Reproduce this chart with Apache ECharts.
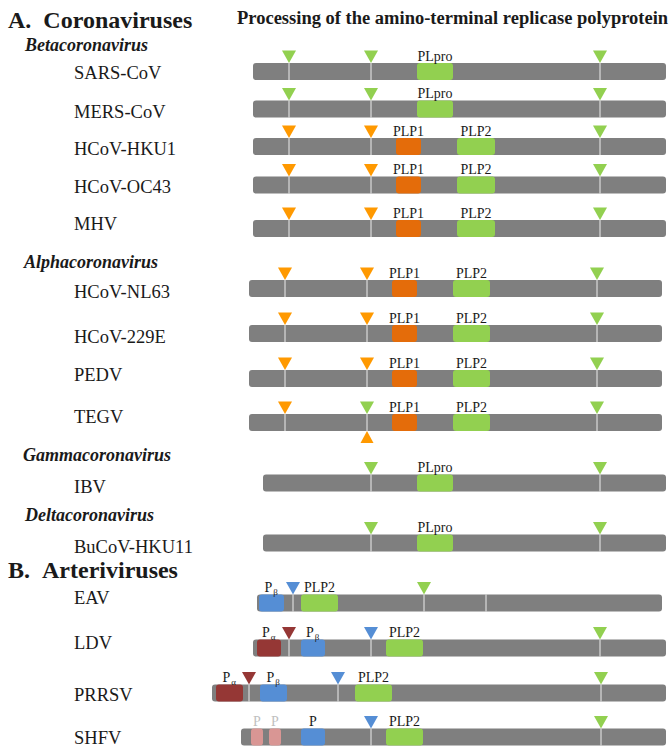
<!DOCTYPE html>
<html><head><meta charset="utf-8">
<script src="https://cdn.jsdelivr.net/npm/echarts@6/dist/echarts.min.js"></script>
<style>html,body{margin:0;padding:0;background:#fff}#c{width:671px;height:748px}</style>
</head><body><div id="c"></div>
<script>
// ---------------- data ----------------
const chartTitle = 'Processing of the amino-terminal replicase polyprotein';
const families = ['A.\u00a0\u00a0Coronaviruses', 'B.\u00a0\u00a0Arteriviruses'];
const genera = ['Betacoronavirus', 'Alphacoronavirus', 'Gammacoronavirus', 'Deltacoronavirus'];
const viruses = ['SARS-CoV','MERS-CoV','HCoV-HKU1','HCoV-OC43','MHV','HCoV-NL63','HCoV-229E','PEDV','TEGV','IBV','BuCoV-HKU11','EAV','LDV','PRRSV','SHFV'];
// polyprotein extent (relative position along the drawing scale)
const polyStart = [253,253,253,253,253,249,249,249,249,263,263,257,253,212,241];
const polyEnd   = [666,666,666,666,666,662,662,662,662,666,666,662,666,666,666];
// cleavage sites and responsible protease (second entry of a pair = site processed from below)
const cleavagePos = [
  [289,371,600],[289,371,600],[289,371,600],[289,371,600],[289,371,600],
  [285,367,597],[285,367,597],[285,367,597],[285,367,597],
  [371,600],[371,600],
  [293,424,486],[289,371,600],[249,338,601],[371,601]
];
const cleavageEnzyme = [
  ['PLpro','PLpro','PLpro'],['PLpro','PLpro','PLpro'],
  ['PLP1','PLP1','PLP2'],['PLP1','PLP1','PLP2'],['PLP1','PLP1','PLP2'],
  ['PLP1','PLP1','PLP2'],['PLP1','PLP1','PLP2'],['PLP1','PLP1','PLP2'],['PLP1',['PLP2','PLP1'],'PLP2'],
  ['PLpro','PLpro'],['PLpro','PLpro'],
  ['Pb','PLP2',null],['Pa','Pb','PLP2'],['Pa','Pb','PLP2'],['Pb','PLP2']
];
// protease domains
const domainLabel = [
  ['PLpro'],['PLpro'],
  ['PLP1','PLP2'],['PLP1','PLP2'],['PLP1','PLP2'],
  ['PLP1','PLP2'],['PLP1','PLP2'],['PLP1','PLP2'],['PLP1','PLP2'],
  ['PLpro'],['PLpro'],
  ['Pβ','PLP2'],['Pα','Pβ','PLP2'],['Pα','Pβ','PLP2'],['P','P','P','PLP2']
];
const domainKind = [
  ['PLpro'],['PLpro'],
  ['PLP1','PLP2'],['PLP1','PLP2'],['PLP1','PLP2'],
  ['PLP1','PLP2'],['PLP1','PLP2'],['PLP1','PLP2'],['PLP1','PLP2'],
  ['PLpro'],['PLpro'],
  ['Pb','PLP2'],['Pa','Pb','PLP2'],['Pa','Pb','PLP2'],['Pu','Pu','Pb','PLP2']
];
const domainStart = [
  [417],[417],[396,457],[396,457],[396,457],
  [392,453],[392,453],[392,453],[392,453],
  [417],[417],
  [259,301],[257,301,386],[216,260,355],[251,269,301,386]
];
const domainEnd = [
  [453],[453],[421,495],[421,495],[421,495],
  [417,490],[417,490],[417,490],[417,490],
  [453],[453],
  [284,338],[281,325,423],[243,287,392],[263,281,325,423]
];

// ---------------- layout & style ----------------
const FONT = "'Liberation Serif','Times New Roman',serif";
const rowTop  = [63,100.5,138,176.5,220,280,325,370,414,474.5,534.5,594.5,639.5,684.5,728.5];
const nameMid = [73,112,149,187,224,292,337,375,417,487,547,598,643,695,738];
const genusPos = [[25,45],[24,262],[23,455],[25,515]];
const familyPos = [[8,20],[8,570]];
const BAR_H = 17;
const GRAY = '#7F7F7F';
const domainColor = {PLpro:'#92D050', PLP2:'#92D050', PLP1:'#E46C0A', Pb:'#558ED5', Pa:'#953735', Pu:'#D99694'};
const siteColor = {PLpro:'#92D050', PLP2:'#92D050', PLP1:'#FF9900', Pb:'#558ED5', Pa:'#953735'};
const labelColor = {Pu:'#BFBFBF'};

function label(text, x, y, size, col){
  return {type:'text', style:{text, x, y, align:'center', verticalAlign:'middle',
    font: size + 'px ' + FONT, fontSize:size, fontFamily:FONT, fill:col}};
}

function makeRenderer(i){
  return function(params, api){
    const X = v => api.coord([v, 0])[0];
    const cy = api.coord([api.value(0), 0])[1];
    const h = api.size([0, 1])[1];
    const top = cy - h / 2, bot = cy + h / 2;
    const ch = [];
    const x0 = X(api.value(0)), x1 = X(api.value(1));
    ch.push({type:'rect', shape:{x:x0, y:top, width:x1 - x0, height:h, r:3}, style:{fill:GRAY}});
    // separators at cleavage sites
    cleavagePos[i].forEach(p => {
      const x = X(p);
      ch.push({type:'line', shape:{x1:x, y1:top, x2:x, y2:bot}, style:{stroke:'#EDEDED', lineWidth:1}});
    });
    // domains
    domainLabel[i].forEach((lab, k) => {
      const a = X(domainStart[i][k]), b = X(domainEnd[i][k]);
      const kind = domainKind[i][k];
      ch.push({type:'rect', shape:{x:a, y:top, width:b - a, height:h, r:3}, style:{fill:domainColor[kind]}});
      const cx = (a + b) / 2;
      const col = labelColor[kind] || '#1a1a1a';
      if (lab.length === 2 && /[αβ]/.test(lab[1])) {
        ch.push(label(lab[0], cx - 3, top - 7, 14, col));
        ch.push(label(lab[1], cx + 4, top - 3, 9, col));
      } else {
        ch.push(label(lab, cx, top - 7, 14, col));
      }
    });
    // cleavage-site triangles
    cleavagePos[i].forEach((p, k) => {
      const e = cleavageEnzyme[i][k];
      if (!e) return;
      const x = X(p);
      const above = Array.isArray(e) ? e[0] : e;
      ch.push({type:'polygon', shape:{points:[[x - 7, top - 12.5],[x + 7, top - 12.5],[x, top]]},
        style:{fill:siteColor[above]}});
      if (Array.isArray(e)) {
        ch.push({type:'polygon', shape:{points:[[x - 6.5, bot + 12],[x + 6.5, bot + 12],[x, bot]]},
          style:{fill:siteColor[e[1]]}});
      }
    });
    return {type:'group', children:ch};
  };
}

const grid = [], xAxis = [], yAxis = [], series = [];
viruses.forEach((v, i) => {
  grid.push({left:0, right:0, top:rowTop[i], height:BAR_H});
  xAxis.push({gridIndex:i, type:'value', min:0, max:671, show:false});
  yAxis.push({gridIndex:i, type:'category', data:[v], show:false});
  series.push({type:'custom', name:v, xAxisIndex:i, yAxisIndex:i, clip:false, silent:true,
    data:[[polyStart[i], polyEnd[i], 0]], encode:{x:[0,1], y:2}, renderItem:makeRenderer(i)});
});

function txt(text, left, mid, size, weight, style){
  return {text, left, top: mid - size / 2, padding:0,
    textStyle:{fontFamily:FONT, fontSize:size, lineHeight:size, fontWeight:weight || 'normal',
      fontStyle:style || 'normal', color:'#1a1a1a'}};
}
const title = [];
title.push(txt(chartTitle, 237, 18, 18.5, 'bold'));
families.forEach((f, k) => title.push(txt(f, familyPos[k][0], familyPos[k][1], 24, 'bold')));
genera.forEach((g, k) => title.push(txt(g, genusPos[k][0], genusPos[k][1], 18, 'bold', 'italic')));
viruses.forEach((v, i) => title.push(txt(v, 74, nameMid[i], 18.5)));

const chart = echarts.init(document.getElementById('c'), null, {renderer:'svg'});
chart.setOption({animation:false, backgroundColor:'#fff', title, grid, xAxis, yAxis, series});
</script></body></html>
